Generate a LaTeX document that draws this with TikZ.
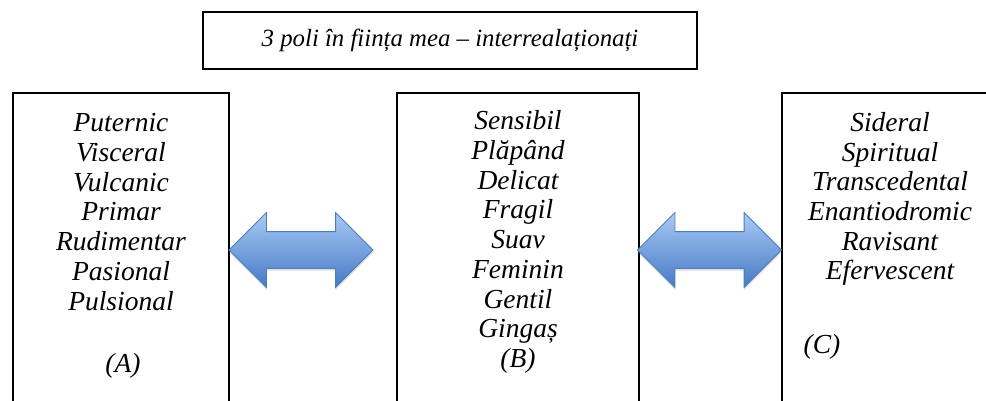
\documentclass[tikz,border=0pt]{standalone}
\usepackage{fontspec}
\setmainfont{Liberation Serif}
\usetikzlibrary{shapes.arrows,shadows}
\definecolor{arrowtop}{HTML}{A9CBF6}
\definecolor{arrowbot}{HTML}{4679C4}
\definecolor{arrowline}{HTML}{4A7EBB}
\begin{document}
\begin{tikzpicture}[x=1pt,y=-1pt,
  boxline/.style={line width=1.4pt, draw=black, line join=miter},
  words/.style={font=\fontsize{27.5}{29.7}\selectfont\itshape, align=center, inner sep=0pt},
  titlewords/.style={font=\fontsize{24.8}{29.7}\selectfont\itshape, align=center, inner sep=0pt},
  dblarrow/.style={double arrow, minimum height=144pt, inner xsep=0pt, inner ysep=18pt,
    double arrow head extend=19pt, draw=arrowline, line width=0.8pt,
    top color=arrowtop, bottom color=arrowbot,
    drop shadow={opacity=0.22, shadow xshift=0pt, shadow yshift=-2.5pt}}]
\useasboundingbox (0,0) rectangle (986,401);
% title
\node[boxline, draw, minimum width=494pt, minimum height=57pt, titlewords] (title) at (450,40.5)
  {3 poli în ființa mea – interrealaționați};
% open boxes
\draw[boxline] (13,401) -- (13,93) -- (229,93) -- (229,401);
\draw[boxline] (397,401) -- (397,93) -- (639,93) -- (639,401);
\draw[boxline] (782,401) -- (782,93) -- (986,93);
% texts
\node[words] (ta) at (121,212) {Puternic\\Visceral\\Vulcanic\\Primar\\Rudimentar\\Pasional\\Pulsional};
\node[words] (la) at (123,366) {(A)};
\node[words] (tb) at (518,242) {Sensibil\\Plăpând\\Delicat\\Fragil\\Suav\\Feminin\\Gentil\\Gingaș\\(B)};
\node[words] (tc) at (890,199) {Sideral\\Spiritual\\Transcedental\\Enantiodromic\\Ravisant\\Efervescent};
\node[words] (lc) at (822,347) {(C)};
% arrows
\node[dblarrow] (ab) at (301,250) {};
\node[dblarrow] (bc) at (709.5,250) {};
\end{tikzpicture}
\end{document}
